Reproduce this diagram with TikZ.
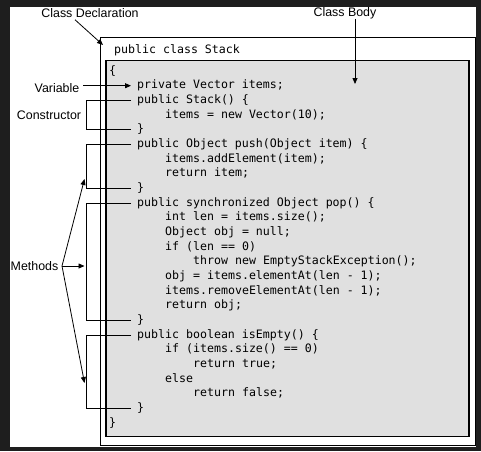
\documentclass[tikz,border=0pt]{standalone}
\usepackage{fontspec}
\setmainfont{Liberation Sans}
\setmonofont{DejaVu Sans Mono}
\usetikzlibrary{positioning, arrows.meta}

\definecolor{darkbg}{RGB}{30,30,30}
\definecolor{codebg}{RGB}{224,224,224}

\tikzset{
  code/.style={anchor=west, inner sep=0pt, text height=8pt, text depth=2pt,
    font=\ttfamily\fontsize{11.6}{14}\selectfont},
  tag/.style={inner sep=0pt, font=\fontsize{12.4}{14}\selectfont},
  pointer/.style={-{Triangle[length=6pt,width=5pt]}, line width=0.8pt},
  bracket/.style={line width=0.8pt},
}

\begin{document}
\begin{tikzpicture}[x=1pt,y=-1pt]
		% frame and boxes
		\fill[darkbg] (0,0) rectangle (481,451);
		\fill[white] (10,7) rectangle (476,447);
		\draw[line width=0.9pt] (100,37.5) rectangle (475,445);
		\draw[line width=1.3pt, fill=codebg] (106,60.5) rectangle (469,436.5);
		\useasboundingbox (0,0) rectangle (481,451);

		% code
		\node[code] (head) at (114,50) {public class Stack};
		\node[code] (c0) at (109,71) {\{};
		\node[code] (c1) at (137,85.7) {private Vector items;};
		\node[code] (c2) at (137,100.3) {public Stack() \{};
		\node[code] (c3) at (165,115) {items = new Vector(10);};
		\node[code] (c4) at (137,129.7) {\}};
		\node[code] (c5) at (137,144.3) {public Object push(Object item) \{};
		\node[code] (c6) at (165,159) {items.addElement(item);};
		\node[code] (c7) at (165,173.7) {return item;};
		\node[code] (c8) at (137,188.3) {\}};
		\node[code] (c9) at (137,203) {public synchronized Object pop() \{};
		\node[code] (c10) at (165,217.7) {int len = items.size();};
		\node[code] (c11) at (165,232.3) {Object obj = null;};
		\node[code] (c12) at (165,247) {if (len == 0)};
		\node[code] (c13) at (193,261.7) {throw new EmptyStackException();};
		\node[code] (c14) at (165,276.3) {obj = items.elementAt(len - 1);};
		\node[code] (c15) at (165,291) {items.removeElementAt(len - 1);};
		\node[code] (c16) at (165,305.7) {return obj;};
		\node[code] (c17) at (137,320.3) {\}};
		\node[code] (c18) at (137,335) {public boolean isEmpty() \{};
		\node[code] (c19) at (165,349.7) {if (items.size() == 0)};
		\node[code] (c20) at (193,364.3) {return true;};
		\node[code] (c21) at (165,379) {else};
		\node[code] (c22) at (193,393.7) {return false;};
		\node[code] (c23) at (137,408.3) {\}};
		\node[code] (c24) at (109,423) {\}};

		% labels
		\node[tag] (decl) at (90,13) {Class Declaration};
		\node[tag] (body) at (345,13) {Class Body};
		\node[tag] (var) at (57,88) {Variable};
		\node[tag] (cons) at (49,115.5) {Constructor};
		\node[tag, anchor=west] (meth) at (10.5,266) {Methods};

		\coordinate (decltip) at (103,45);
		\coordinate (bodytip) at (355,84);
		\coordinate (rail) at (86,0);
		\coordinate (mfork) at (62,266);
		\coordinate (mtop) at (84.5,179);
		\coordinate (mmid) at (84.5,266);
		\coordinate (mbot) at (84.5,383);

		% pointers
		\draw[pointer] ([xshift=-15pt,yshift=-2pt]decl.south) -- (decltip);
		\draw[pointer] (body.south -| bodytip) -- (bodytip);
		\draw[pointer] ([xshift=4pt]var.east |- c1.west) -- ([xshift=-6pt]c1.west);

		% brackets
		\draw[bracket] ([xshift=-6pt]c2.west) -| (rail |- c4.west) -- ([xshift=-6pt]c4.west);
		\draw[bracket] ([xshift=-6pt]c5.west) -| (rail |- c8.west) -- ([xshift=-6pt]c8.west);
		\draw[bracket] ([xshift=-6pt]c9.west) -| (rail |- c17.west) -- ([xshift=-6pt]c17.west);
		\draw[bracket] ([xshift=-6pt]c18.west) -| (rail |- c23.west) -- ([xshift=-6pt]c23.west);

		\draw[pointer] (meth.east -| mfork) -- (mtop);
		\draw[pointer] (meth.east -| mfork) -- (mmid);
		\draw[pointer] (meth.east -| mfork) -- (mbot);
	\end{tikzpicture}
\end{document}
